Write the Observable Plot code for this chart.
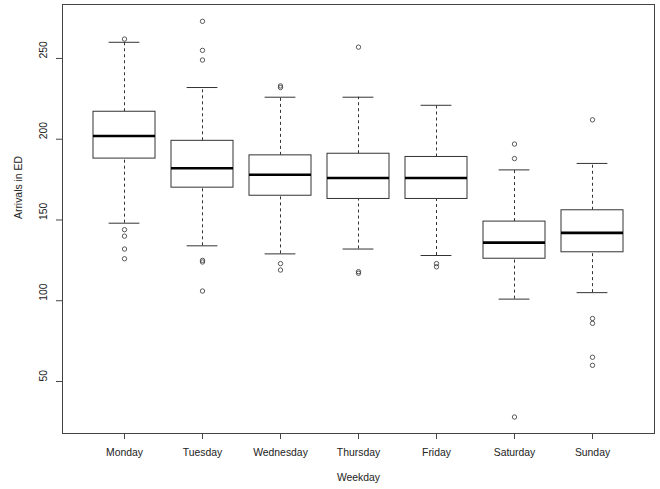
<!DOCTYPE html>
<html><head><meta charset="utf-8">
<script src="https://cdn.jsdelivr.net/npm/d3@7"></script>
<script src="https://cdn.jsdelivr.net/npm/@observablehq/plot@0.6"></script>
<style>body{margin:0;background:#fff}</style>
</head><body><div id="chart"></div>
<script>
const days = ["Monday", "Tuesday", "Wednesday", "Thursday", "Friday", "Saturday", "Sunday"];
const lowerWhisker = [148, 134, 129, 132, 128, 101, 105];
const q1Values     = [188, 170, 165, 163, 163, 126, 130];
const medians      = [202, 182, 178, 176, 176, 136, 142];
const q3Values     = [217, 199, 190, 191, 189, 149, 156];
const upperWhisker = [260, 232, 226, 226, 221, 181, 185];
const outlierValues = [
  [262, 144, 140, 132, 126],
  [273, 255, 249, 125, 124, 106],
  [233, 232, 123, 119],
  [257, 118, 117],
  [123, 121],
  [197, 188, 28],
  [212, 89, 86, 65, 60]
];
const yTicks = [50, 100, 150, 200, 250];

const boxes = days.map((day, i) => ({
  day, lo: lowerWhisker[i], q1: q1Values[i], med: medians[i], q3: q3Values[i], hi: upperWhisker[i]
}));
const outliers = days.flatMap((day, i) => outlierValues[i].map(value => ({day, value})));

const ink = "#333";
const chart = Plot.plot({
  width: 660, height: 489,
  marginTop: 4, marginBottom: 56, marginLeft: 62, marginRight: 6,
  style: {fontFamily: '"Liberation Sans", Arial, sans-serif', fontSize: "10.4px", color: "#222", background: "#fff"},
  x: {domain: days, type: "band", paddingInner: 0.2, paddingOuter: 0.38, align: 0.5, label: null},
  y: {domain: [17.8, 283.4], label: null},
  marks: [
    Plot.ruleX(boxes, {x: "day", y1: "q3", y2: "hi", stroke: ink, strokeDasharray: "3,3"}),
    Plot.ruleX(boxes, {x: "day", y1: "lo", y2: "q1", stroke: ink, strokeDasharray: "3,3"}),
    Plot.tickY(boxes, {x: "day", y: "hi", stroke: ink, insetLeft: 15.6, insetRight: 15.6}),
    Plot.tickY(boxes, {x: "day", y: "lo", stroke: ink, insetLeft: 15.6, insetRight: 15.6}),
    Plot.barY(boxes, {x: "day", y1: "q1", y2: "q3", fill: "white", stroke: ink}),
    Plot.tickY(boxes, {x: "day", y: "med", stroke: "#000", strokeWidth: 2.6}),
    Plot.dot(outliers, {x: "day", y: "value", r: 2.2, stroke: ink, strokeWidth: 0.8}),
    Plot.frame({stroke: "#444"}),
    Plot.axisX({tickSize: 6, tickPadding: 9.5, label: null, stroke: "#444"}),
    Plot.axisY(yTicks, {tickSize: 6, tickFormat: () => "", label: null, stroke: "#444"}),
    Plot.text(yTicks, {y: d => d, text: d => String(d), frameAnchor: "left", dx: -19, rotate: -90, fill: "#222"}),
    Plot.text(["Arrivals in ED"], {text: d => d, frameAnchor: "left", dx: -44, rotate: -90, fill: "#222"}),
    Plot.text(["Weekday"], {text: d => d, frameAnchor: "bottom", dy: 47.3, fill: "#222"})
  ]
});
document.getElementById("chart").append(chart);
</script>
</body></html>
